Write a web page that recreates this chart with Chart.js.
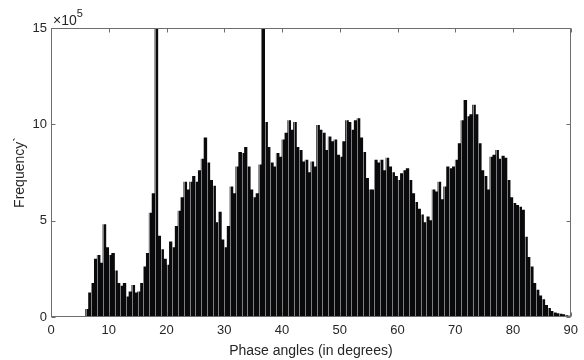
<!DOCTYPE html>
<html>
<head>
<meta charset="utf-8">
<script src="https://cdn.jsdelivr.net/npm/chart.js@4.4.1/dist/chart.umd.min.js"></script>
<style>
  html, body { margin: 0; background: #fff; }
  #wrap { width: 584px; height: 360px; }
</style>
</head>
<body>
<div id="wrap"><canvas id="phaseChart"></canvas></div>
<script>
// histograma dos angulos de fase, classes de 0.5 grau a partir de 0
const binStart = 0;
const binWidth = 0.5;

// frequencia em unidades de 10^5 (uma linha = 5 graus)
const frequency = [
  0, 0, 0, 0, 0, 0, 0, 0, 0, 0.03,
  0.03, 0.03, 0.4, 1.25, 1.75, 3.0, 3.2, 2.8, 4.8, 3.6,
  3.2, 3.3, 2.4, 1.75, 1.6, 1.75, 1.05, 1.3, 1.65, 1.25,
  1.3, 1.75, 2.6, 3.3, 5.4, 6.4, 20, 4.2, 3.5, 3.0,
  2.7, 3.9, 3.6, 4.7, 5.5, 6.2, 7.0, 6.6, 7.0, 7.3,
  7.0, 7.6, 8.2, 9.3, 8.0, 7.1, 6.8, 4.9, 5.45, 4.0,
  3.6, 4.7, 6.75, 6.4, 7.8, 8.55, 8.5, 8.8, 7.8, 6.6,
  6.2, 6.4, 7.9, 20, 10.1, 8.8, 8.0, 7.8, 8.5, 8.3,
  9.2, 9.55, 10.2, 9.7, 10.1, 8.8, 8.65, 8.05, 8.15, 7.5,
  8.05, 7.8, 9.95, 9.7, 9.55, 8.65, 9.35, 9.1, 9.2, 8.4,
  8.3, 9.1, 10.2, 10.1, 9.7, 10.2, 10.3, 9.3, 8.55, 7.2,
  6.6, 6.6, 8.15, 8.0, 8.15, 7.6, 8.25, 7.8, 7.5, 7.3,
  7.1, 7.45, 7.6, 7.7, 7.1, 6.4, 5.95, 5.6, 5.3, 4.9,
  5.2, 5.0, 6.6, 6.5, 7.0, 6.1, 6.75, 7.8, 7.7, 7.8,
  8.15, 9.0, 10.2, 11.25, 10.4, 10.5, 11.0, 10.5, 9.0, 7.6,
  7.3, 6.6, 8.3, 8.4, 8.65, 8.2, 8.35, 8.25, 7.1, 6.2,
  5.9, 5.8, 5.7, 5.55, 4.15, 3.1, 2.6, 1.75, 1.4, 1.1,
  0.9, 0.6, 0.45, 0.3, 0.22, 0.18, 0.15, 0.12, 0.08, 0.05
];

const xTicks = [0, 10, 20, 30, 40, 50, 60, 70, 80, 90];
const yTicks = [0, 5, 10, 15];
const yExponent = '5';

const points = frequency.map((v, i) => ({ x: binStart + (i + 0.5) * binWidth, y: v }));

const textColor = '#262626';
const axisColor = '#6e6e6e';
const fontFamily = '"Liberation Sans", Arial, sans-serif';

// caixa do eixo, ticks para dentro, frestas claras e o "x10^5"
const matlabAxes = {
  id: 'matlabAxes',
  afterDatasetsDraw(chart) {
    const { ctx, chartArea: a, scales: { x, y } } = chart;
    ctx.save();

    // frestas claras entre as barras a cada grau (so por cima das barras)
    ctx.beginPath();
    ctx.rect(a.left, a.top, a.right - a.left, a.bottom - a.top - 1);
    ctx.clip();
    ctx.globalCompositeOperation = 'source-atop';
    ctx.strokeStyle = 'rgba(200, 206, 216, 0.75)';
    ctx.lineWidth = 0.8;
    for (let d = 1; d < 90; d++) {
      const px = Math.round(x.getPixelForValue(d)) + 0.5;
      ctx.beginPath();
      ctx.moveTo(px, a.top);
      ctx.lineTo(px, a.bottom);
      ctx.stroke();
    }
    ctx.restore();

    ctx.save();
    ctx.strokeStyle = axisColor;
    ctx.lineWidth = 1;
    const L = Math.round(a.left) + 0.5, R = Math.round(a.right) - 0.5;
    const T = Math.round(a.top) + 0.5, B = Math.round(a.bottom) - 0.5;
    ctx.strokeRect(L, T, R - L, B - T);

    const tl = 4;
    ctx.beginPath();
    xTicks.forEach(t => {
      const px = Math.round(x.getPixelForValue(t)) + 0.5;
      ctx.moveTo(px, T); ctx.lineTo(px, T + tl);
      ctx.moveTo(px, B); ctx.lineTo(px, B - tl);
    });
    yTicks.forEach(t => {
      const py = Math.round(y.getPixelForValue(t)) + 0.5;
      ctx.moveTo(L, py); ctx.lineTo(L + tl, py);
      ctx.moveTo(R, py); ctx.lineTo(R - tl, py);
    });
    ctx.stroke();

    // multiplicador do eixo y
    ctx.fillStyle = textColor;
    ctx.textBaseline = 'alphabetic';
    ctx.textAlign = 'left';
    ctx.font = '14px ' + fontFamily;
    ctx.fillText('\u00d710', a.left + 2, a.top - 3);
    const w = ctx.measureText('\u00d710').width;
    ctx.font = '11px ' + fontFamily;
    ctx.fillText(yExponent, a.left + 2 + w, a.top - 11);
    ctx.restore();
  }
};

const canvas = document.getElementById('phaseChart').getContext('2d');

new Chart(canvas, {
  type: 'bar',
  data: {
    datasets: [{
      data: points,
      backgroundColor: '#0a0a0a',
      borderWidth: 0,
      barPercentage: 1,
      categoryPercentage: 1
    }]
  },
  options: {
    responsive: true,
    maintainAspectRatio: false,
    animation: false,
    layout: { padding: { top: 28, right: 8, left: 0, bottom: 0 } },
    plugins: {
      legend: { display: false },
      tooltip: { enabled: false }
    },
    scales: {
      x: {
        type: 'linear',
        min: 0,
        max: 90,
        offset: false,
        afterBuildTicks: s => { s.ticks = xTicks.map(v => ({ value: v })); },
        afterFit: s => { s.height = 43; },
        grid: { display: false, drawTicks: false },
        border: { display: false },
        ticks: {
          color: textColor,
          padding: 6,
          maxRotation: 0,
          font: { family: fontFamily, size: 13 }
        },
        title: {
          display: true,
          text: 'Phase angles (in degrees)',
          color: textColor,
          padding: { top: 0, bottom: 0 },
          font: { family: fontFamily, size: 14 }
        }
      },
      y: {
        min: 0,
        max: 15,
        afterBuildTicks: s => { s.ticks = yTicks.map(v => ({ value: v })); },
        afterFit: s => { s.width = 51; },
        grid: { display: false, drawTicks: false },
        border: { display: false },
        ticks: {
          color: textColor,
          padding: 4,
          font: { family: fontFamily, size: 13 }
        },
        title: {
          display: true,
          text: 'Frequency`',
          color: textColor,
          padding: { top: 12, bottom: 0 },
          font: { family: fontFamily, size: 14 }
        }
      }
    }
  },
  plugins: [matlabAxes]
});
</script>
</body>
</html>
